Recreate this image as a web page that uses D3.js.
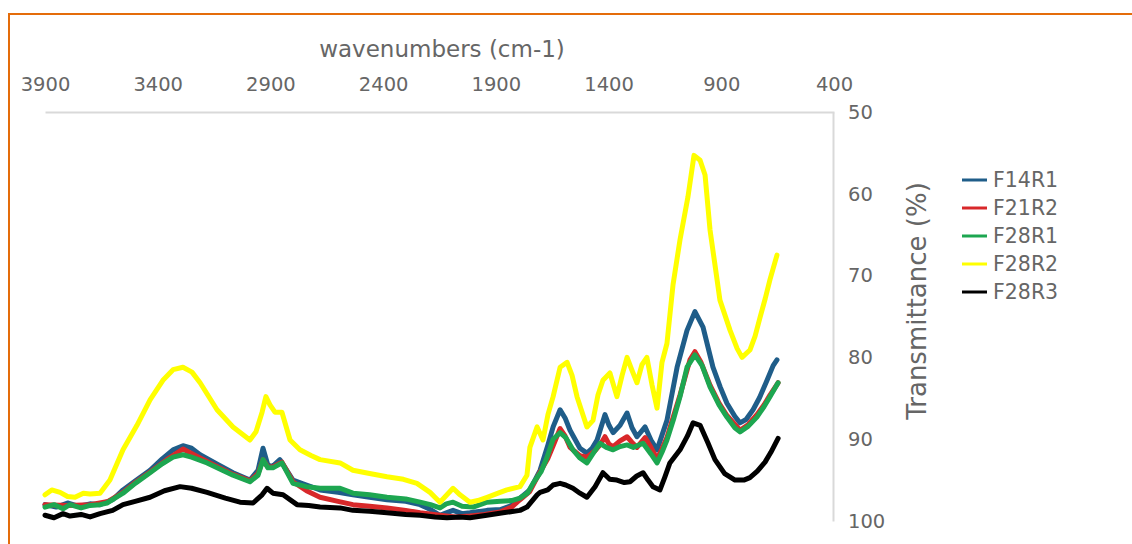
<!DOCTYPE html>
<html>
<head>
<meta charset="utf-8">
<script src="https://cdn.jsdelivr.net/npm/d3@7"></script>
<style>
  html, body { margin: 0; padding: 0; background: #ffffff; }
  svg { display: block; }
  text { font-family: "DejaVu Sans", Verdana, sans-serif; fill: #666666; }
</style>
</head>
<body>
<svg id="chart" width="1132" height="544"></svg>
<script>
// ---------- data ----------
const seriesNames = ["F14R1", "F21R2", "F28R1", "F28R2", "F28R3"];
const seriesColors = ["#1f5d89", "#d8282a", "#1da650", "#ffff00", "#000000"];
const xTicks = [3900, 3400, 2900, 2400, 1900, 1400, 900, 400];
const yTicks = [50, 60, 70, 80, 90, 100];
const xTitle = "wavenumbers (cm-1)";
const yTitle = "Transmittance (%)";

// [wavenumber (cm-1), transmittance (%)]
const F14R1 = [[3900,98.0],[3850,98.3],[3800,97.8],[3750,98.2],[3700,97.9],[3656,98.0],[3600,97.4],[3554,96.2],[3500,95.1],[3434,93.8],[3380,92.4],[3332,91.3],[3288,90.8],[3250,91.1],[3212,91.9],[3140,93.0],[3066,94.1],[2991,95.0],[2955,93.8],[2933,91.1],[2911,93.2],[2889,93.3],[2858,92.5],[2800,95.0],[2740,95.6],[2680,96.2],[2600,96.5],[2534,96.8],[2460,97.1],[2383,97.4],[2300,97.6],[2236,98.0],[2190,98.6],[2148,99.3],[2120,99.0],[2090,98.7],[2050,99.1],[2015,99.0],[1939,98.7],[1880,98.6],[1830,98.1],[1793,97.2],[1749,96.2],[1704,93.8],[1669,90.7],[1646,88.5],[1615,86.4],[1593,87.4],[1571,88.9],[1527,91.1],[1496,91.7],[1473,91.1],[1451,90.1],[1416,87.0],[1398,88.3],[1380,89.2],[1349,88.3],[1318,86.8],[1296,88.6],[1274,89.7],[1238,88.5],[1212,90.1],[1185,91.3],[1163,89.5],[1141,87.7],[1096,81.2],[1052,76.7],[1017,74.4],[981,76.3],[937,81.2],[905,83.6],[875,85.6],[840,87.2],[817,88.0],[790,87.6],[759,86.4],[730,84.9],[697,82.8],[670,81.0],[653,80.3]];
const F21R2 = [[3900,98.0],[3800,98.1],[3700,98.0],[3620,97.6],[3554,96.5],[3500,95.3],[3434,94.0],[3360,92.5],[3288,91.2],[3212,92.3],[3140,93.3],[3066,94.3],[2991,95.1],[2955,94.2],[2933,92.5],[2911,93.4],[2889,93.4],[2849,92.8],[2800,95.2],[2740,96.3],[2680,97.1],[2600,97.6],[2534,98.0],[2460,98.2],[2383,98.4],[2300,98.7],[2236,99.0],[2148,99.3],[2080,99.5],[2015,99.4],[1950,99.2],[1882,98.9],[1830,98.3],[1793,97.4],[1750,96.4],[1704,94.0],[1670,92.4],[1646,90.8],[1615,88.7],[1593,89.6],[1571,91.0],[1527,92.0],[1496,92.2],[1460,91.4],[1438,90.7],[1416,89.7],[1398,90.6],[1380,90.9],[1349,90.2],[1318,89.7],[1296,90.4],[1274,91.0],[1238,89.8],[1212,91.0],[1185,92.4],[1163,91.2],[1141,89.8],[1083,84.6],[1039,80.3],[1017,79.3],[990,80.6],[950,83.4],[910,85.6],[875,87.1],[817,88.9],[780,88.2],[742,87.0],[710,85.8],[684,84.6],[648,83.1]];
const F28R1 = [[3900,98.3],[3860,98.0],[3820,98.5],[3789,98.0],[3740,98.4],[3700,98.1],[3656,98.0],[3625,97.8],[3554,96.6],[3500,95.4],[3434,94.1],[3380,93.0],[3332,92.2],[3288,91.9],[3250,92.2],[3181,92.9],[3120,93.7],[3066,94.4],[2991,95.2],[2955,94.4],[2933,92.5],[2911,93.5],[2889,93.5],[2849,92.9],[2800,95.4],[2740,95.8],[2680,96.0],[2591,96.0],[2534,96.6],[2460,96.8],[2383,97.1],[2300,97.3],[2236,97.7],[2190,98.0],[2148,98.4],[2120,97.9],[2090,97.7],[2050,98.2],[2001,98.3],[1939,97.7],[1880,97.6],[1830,97.5],[1793,97.2],[1760,96.6],[1735,95.4],[1700,94.0],[1673,92.2],[1646,90.0],[1615,89.2],[1590,89.8],[1558,91.3],[1527,92.3],[1496,92.9],[1470,91.8],[1438,90.5],[1410,91.0],[1380,91.3],[1349,90.9],[1318,90.7],[1290,91.0],[1247,90.5],[1212,91.8],[1185,92.9],[1163,91.6],[1141,90.1],[1110,87.4],[1083,84.8],[1052,81.2],[1017,79.7],[985,81.0],[950,83.6],[910,85.8],[875,87.3],[840,88.6],[817,89.1],[780,88.4],[742,87.3],[710,86.0],[684,84.8],[648,83.1]];
const F28R2 = [[3900,96.8],[3870,96.2],[3833,96.5],[3800,97.0],[3767,97.1],[3730,96.6],[3700,96.7],[3656,96.6],[3612,95.0],[3554,91.3],[3492,88.3],[3434,85.2],[3377,82.8],[3332,81.5],[3288,81.2],[3248,81.8],[3212,83.1],[3137,86.4],[3066,88.5],[2991,90.1],[2964,89.1],[2937,86.7],[2920,84.8],[2902,85.8],[2880,86.7],[2849,86.7],[2813,90.1],[2769,91.3],[2720,92.0],[2680,92.5],[2591,92.9],[2534,93.8],[2460,94.2],[2383,94.6],[2310,94.9],[2250,95.4],[2192,96.5],[2148,97.7],[2117,96.8],[2090,96.0],[2059,96.8],[2015,97.7],[1980,97.5],[1939,97.1],[1890,96.6],[1851,96.2],[1793,95.8],[1762,94.4],[1749,91.0],[1717,88.5],[1691,90.1],[1669,87.0],[1646,84.8],[1615,81.2],[1584,80.6],[1562,82.2],[1540,84.8],[1496,88.5],[1469,87.7],[1447,84.6],[1425,82.8],[1394,81.9],[1363,84.8],[1340,82.2],[1318,80.0],[1296,81.6],[1274,83.1],[1252,80.9],[1230,80.0],[1207,83.4],[1185,86.2],[1163,80.6],[1141,78.3],[1114,71.1],[1083,65.6],[1048,60.4],[1021,55.3],[994,55.9],[972,57.7],[950,64.4],[928,68.7],[906,73.0],[861,76.7],[830,78.9],[808,80.0],[773,79.1],[750,77.4],[728,75.1],[705,72.8],[684,70.5],[653,67.5]];
const F28R3 = [[3900,99.3],[3860,99.6],[3820,99.1],[3789,99.4],[3740,99.2],[3700,99.5],[3656,99.1],[3600,98.7],[3554,98.0],[3500,97.6],[3434,97.1],[3370,96.3],[3301,95.8],[3250,96.0],[3181,96.5],[3100,97.2],[3035,97.7],[2977,97.8],[2937,96.8],[2915,96.0],[2889,96.6],[2844,96.8],[2782,98.0],[2730,98.1],[2680,98.3],[2591,98.4],[2534,98.7],[2460,98.8],[2383,99.0],[2300,99.2],[2236,99.3],[2170,99.5],[2117,99.6],[2060,99.5],[2015,99.6],[1940,99.3],[1868,99.0],[1793,98.7],[1762,98.3],[1717,96.8],[1704,96.5],[1670,96.2],[1646,95.6],[1615,95.4],[1590,95.6],[1558,96.0],[1527,96.6],[1496,97.1],[1460,95.8],[1425,94.1],[1395,94.9],[1363,95.0],[1330,95.3],[1305,95.2],[1275,94.5],[1247,94.1],[1225,95.0],[1203,95.8],[1172,96.2],[1150,94.6],[1128,92.9],[1083,91.3],[1050,89.6],[1025,88.0],[994,88.3],[960,90.4],[928,92.5],[885,94.2],[839,95.0],[800,95.0],[773,94.7],[740,93.9],[706,92.8],[680,91.6],[648,89.9]];

const seriesData = [F14R1, F21R2, F28R1, F28R2, F28R3];

// ---------- chart ----------
const svg = d3.select("#chart");

// frame (orange border)
svg.append("line").attr("x1", 8).attr("x2", 1132).attr("y1", 14).attr("y2", 14)
  .attr("stroke", "#e46c0a").attr("stroke-width", 2);
svg.append("line").attr("x1", 9).attr("x2", 9).attr("y1", 14).attr("y2", 544)
  .attr("stroke", "#e46c0a").attr("stroke-width", 2);

const plot = { left: 45, right: 834, top: 112, bottom: 521 };

const x = d3.scaleLinear().domain([3900, 400]).range([plot.left, plot.right]);
const y = d3.scaleLinear().domain([50, 100]).range([plot.top, plot.bottom]);

// top x axis
const xAxis = svg.append("g")
  .attr("transform", `translate(0,${plot.top})`)
  .call(d3.axisTop(x).tickValues(xTicks).tickSize(0).tickSizeOuter(0).tickPadding(21).tickFormat(d3.format("d")));
xAxis.select(".domain").attr("stroke", "#d9d9d9").attr("stroke-width", 2);
xAxis.selectAll("text").style("font-size", "19.5px").attr("fill", "#666666")
  .style("font-family", "'DejaVu Sans', Verdana, sans-serif");

// right y axis
const yAxis = svg.append("g")
  .attr("transform", `translate(${plot.right - 1},0)`)
  .call(d3.axisRight(y).tickValues(yTicks).tickSize(0).tickSizeOuter(0).tickPadding(15));
yAxis.select(".domain").attr("stroke", "#d9d9d9").attr("stroke-width", 2);
yAxis.selectAll("text").style("font-size", "19.5px").attr("fill", "#666666")
  .style("font-family", "'DejaVu Sans', Verdana, sans-serif");

// axis titles
svg.append("text")
  .attr("x", 442).attr("y", 57)
  .attr("text-anchor", "middle")
  .style("font-size", "23px")
  .text(xTitle);

svg.append("text")
  .attr("transform", "translate(926,301) rotate(-90)")
  .attr("text-anchor", "middle")
  .style("font-size", "26px")
  .text(yTitle);

// lines
const line = d3.line()
  .x(d => x(d[0]))
  .y(d => y(d[1]))
  .curve(d3.curveLinear);

const gLines = svg.append("g");
seriesData.forEach((data, i) => {
  gLines.append("path")
    .datum(data)
    .attr("fill", "none")
    .attr("stroke", seriesColors[i])
    .attr("stroke-width", 5)
    .attr("stroke-linejoin", "round")
    .attr("stroke-linecap", "round")
    .attr("d", line);
});

// legend
const legend = svg.append("g").attr("transform", "translate(962,180)");
seriesNames.forEach((name, i) => {
  const g = legend.append("g").attr("transform", `translate(0,${i * 28})`);
  g.append("line").attr("x1", 0).attr("x2", 25).attr("y1", 0).attr("y2", 0)
    .attr("stroke", seriesColors[i]).attr("stroke-width", 3);
  g.append("text").attr("x", 31).attr("y", 0).attr("dy", "0.36em")
    .style("font-size", "20.5px")
    .text(name);
});
</script>
</body>
</html>
